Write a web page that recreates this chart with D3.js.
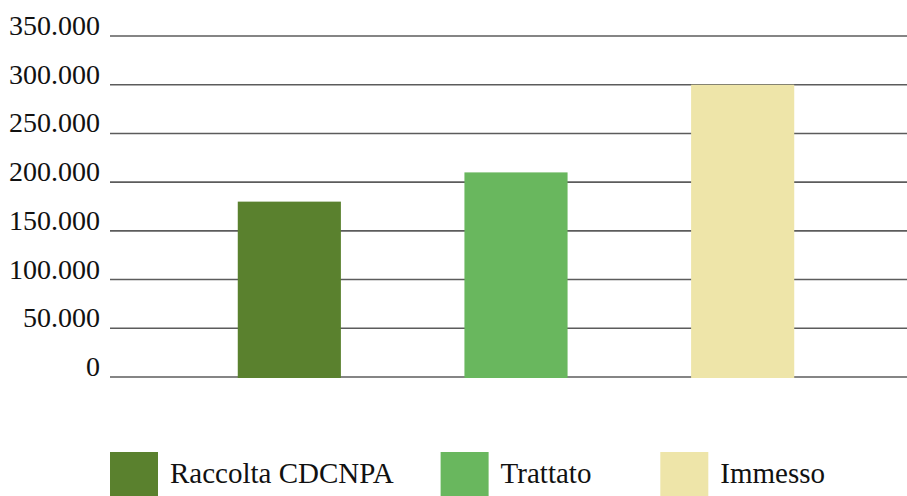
<!DOCTYPE html>
<html>
<head>
<meta charset="utf-8">
<script src="https://cdn.jsdelivr.net/npm/d3@7"></script>
<style>
  body { margin: 0; background: #fff; }
  svg { display: block; }
  text { font-family: "Liberation Serif", "Times New Roman", serif; fill: #111; }
</style>
</head>
<body>
<script>
// data
var categories = ["Raccolta CDCNPA", "Trattato", "Immesso"];
var values = [180000, 210000, 300000];
var colors = ["#5a812e", "#69b75e", "#eee5a9"];
var tickValues = [0, 50000, 100000, 150000, 200000, 250000, 300000, 350000];

//Width and height
var width = 907;
var height = 496;
var plotLeft = 110;
var plotRight = 907;

var it = d3.formatLocale({decimal: ",", thousands: ".", grouping: [3], currency: ["", " €"]});
var fmt = it.format(",");

var svg = d3.select("body").append("svg")
    .attr("width", width)
    .attr("height", height);

var yScale = d3.scaleLinear()
    .domain([0, 350000])
    .range([377, 36]);

// bands, bar width ~103px on a ~227px step
var xScale = d3.scaleBand()
    .domain(categories)
    .range([176, 856])
    .paddingInner(0.545)
    .paddingOuter(0.2725);

// gridlines + labels
var grid = svg.append("g");
grid.selectAll("line")
    .data(tickValues)
    .enter()
    .append("line")
    .attr("x1", plotLeft)
    .attr("x2", plotRight)
    .attr("y1", function(d) { return yScale(d); })
    .attr("y2", function(d) { return yScale(d); })
    .attr("stroke", "#5c5c5c")
    .attr("stroke-width", 1.6);

grid.selectAll("text")
    .data(tickValues)
    .enter()
    .append("text")
    .attr("x", 100)
    .attr("y", function(d) { return yScale(d) - 1; })
    .attr("text-anchor", "end")
    .attr("font-size", 28)
    .text(function(d) { return fmt(d); });

// bars
svg.append("g").selectAll("rect")
    .data(values)
    .enter()
    .append("rect")
    .attr("x", function(d, i) { return xScale(categories[i]); })
    .attr("y", function(d) { return yScale(d); })
    .attr("width", xScale.bandwidth())
    .attr("height", function(d) { return yScale(0) + 1 - yScale(d); })
    .attr("fill", function(d, i) { return colors[i]; });

// legend: first item starts at the plot edge, the others sit under their bar
var legend = svg.append("g");
var items = legend.selectAll("g")
    .data(categories)
    .enter()
    .append("g");

items.append("rect")
    .attr("width", 48)
    .attr("height", 48)
    .attr("y", 452)
    .attr("fill", function(d, i) { return colors[i]; });

items.append("text")
    .attr("x", 60)
    .attr("y", 483)
    .attr("font-size", 29)
    .text(function(d) { return d; });

items.attr("transform", function(d, i) {
    if (i === 0) return "translate(" + plotLeft + ",0)";
    var w = 60 + d3.select(this).select("text").node().getComputedTextLength();
    var cx = xScale(d) + xScale.bandwidth() / 2;
    return "translate(" + (cx - w / 2) + ",0)";
});
</script>
</body>
</html>
